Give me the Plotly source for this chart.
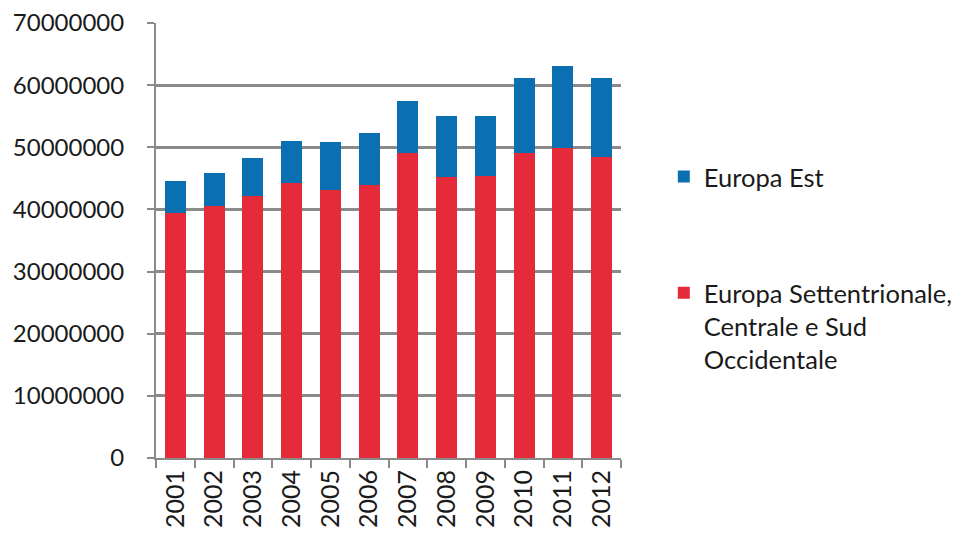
import plotly.graph_objects as go

years = ["2001", "2002", "2003", "2004", "2005", "2006", "2007", "2008", "2009", "2010", "2011", "2012"]
europa_sett = [39500000, 40600000, 42200000, 44300000, 43200000, 43900000, 49100000, 45200000, 45300000, 49100000, 49900000, 48400000]
europa_est = [5000000, 5200000, 6000000, 6700000, 7700000, 8400000, 8300000, 9800000, 9700000, 12100000, 13200000, 12800000]
y_ticks = [0, 10000000, 20000000, 30000000, 40000000, 50000000, 60000000, 70000000]

FONT = "Lato"
fig = go.Figure()
fig.add_trace(go.Bar(
    x=years, y=europa_sett, name="Europa Settentrionale,<br>Centrale e Sud<br>Occidentale",
    marker=dict(color="#E52A3A", line=dict(width=0)), legendgroup="a", legendrank=2,
))
fig.add_trace(go.Bar(
    x=years, y=europa_est, name="Europa Est",
    marker=dict(color="#0A70B2", line=dict(width=0)), legendgroup="b", legendrank=1,
))

fig.update_layout(
    width=963, height=538,
    barmode="stack", bargap=0.46,
    paper_bgcolor="white", plot_bgcolor="white",
    margin=dict(l=148, r=350, t=15, b=88),
    font=dict(family=FONT, size=24, color="#1a1a1a"),
    legend=dict(
        xref="container", yref="container",
        x=0.681, xanchor="left", y=0.7296, yanchor="top",
        traceorder="grouped", tracegroupgap=80,
        font=dict(family=FONT, size=25.5, color="#1a1a1a"),
        valign="top",
    ),
    xaxis=dict(
        tickangle=-90, showline=True, linecolor="#8a8a8a", linewidth=2,
        ticks="outside", ticklen=8, tickcolor="#8a8a8a", tickwidth=2,
        tickson="boundaries", showgrid=False, automargin=False,
        tickfont=dict(family=FONT, size=25),
    ),
    yaxis=dict(
        range=[0, 70000000], tickvals=y_ticks, tickformat="d",
        showline=True, linecolor="#8a8a8a", linewidth=2,
        ticks="outside", ticklen=7, tickcolor="#8a8a8a", tickwidth=2,
        ticklabelstandoff=18, automargin=False, ticklabeloverflow="allow",
        showgrid=True, gridcolor="#8a8a8a", gridwidth=2.5,
        tickfont=dict(family=FONT, size=24),
        zeroline=False,
    ),
)

fig.write_html("out.html")
